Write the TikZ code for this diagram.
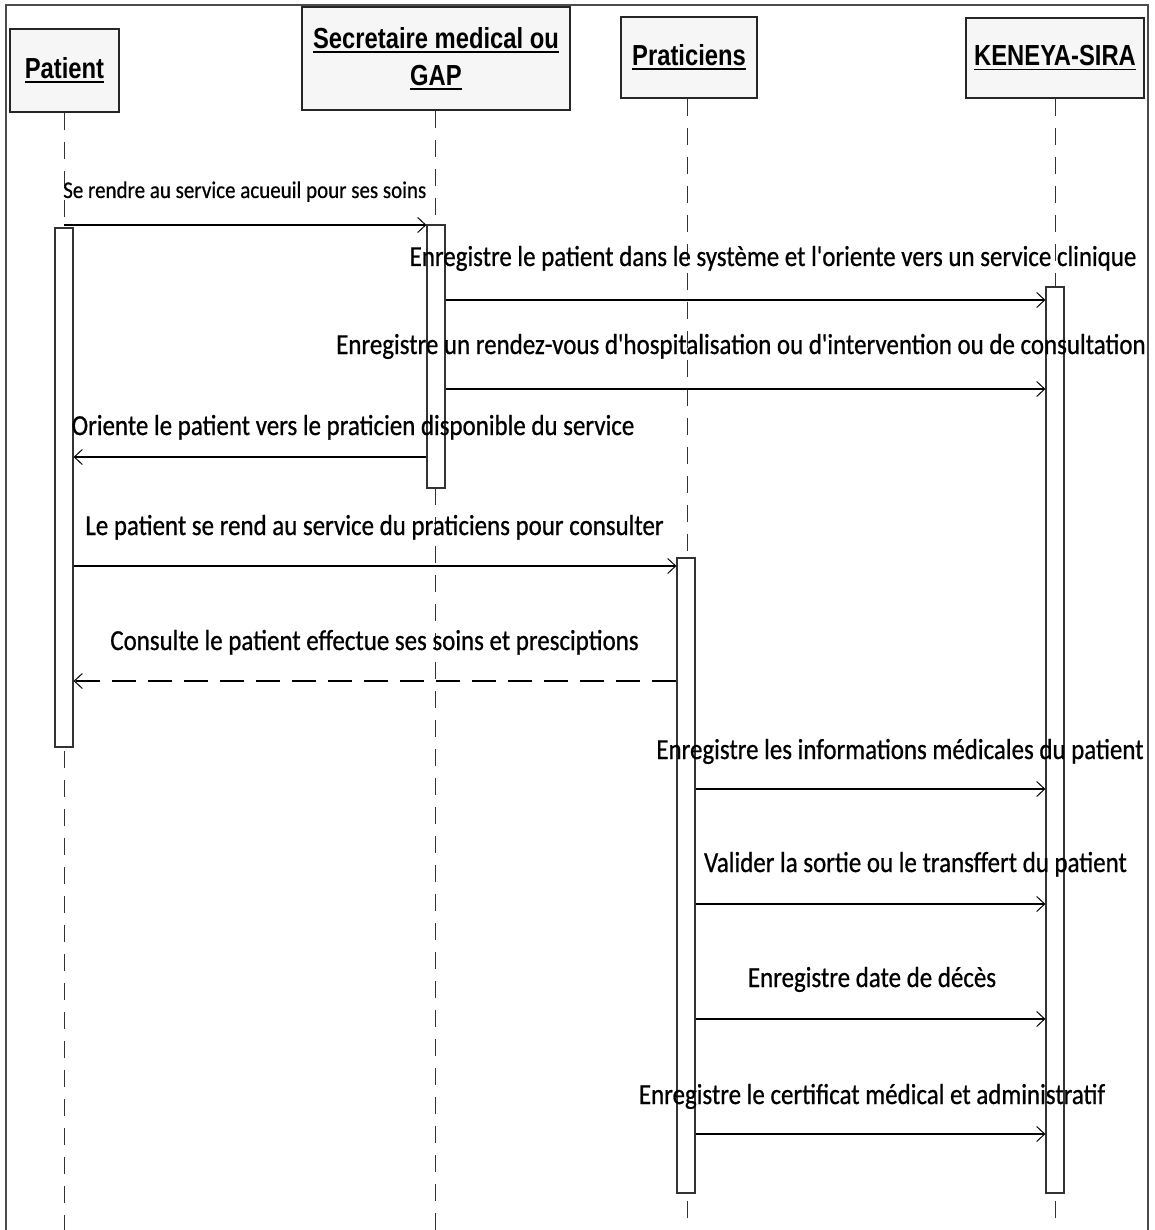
\documentclass[tikz,border=0pt]{standalone}
\usepackage{fontspec}
\setmainfont{Carlito}
\newfontfamily\lblfont[FakeStretch=0.86,FakeBold=0.7]{Carlito}
\newfontfamily\smlfont[FakeStretch=0.875,FakeBold=0.5]{Carlito}
\newfontfamily\hdrfont[FakeStretch=0.82]{Liberation Sans}
\usetikzlibrary{arrows.meta}
% thick underline for participant names
\newcommand{\hul}[1]{\setbox0\hbox{#1}\leavevmode\rlap{\rule[-4.5pt]{\wd0}{1.8pt}}\box0}
\begin{document}
\begin{tikzpicture}[x=1pt,y=-1pt,
  actor/.style={draw=black!85, line width=1.6pt, fill=gray!7,
    font=\hdrfont\bfseries\fontsize{29}{37}\selectfont, align=center, inner sep=0pt},
  lifeline/.style={draw=black!80, line width=1pt, dash pattern=on 17pt off 12pt},
  actbar/.style={draw=black!80, line width=1.2pt, fill=white, minimum width=18pt, inner sep=0pt},
  msg/.style={line width=2.6pt, -{Straight Barb[length=8pt,width=15pt,line width=1pt]}},
  reply/.style={msg, dash pattern=on 24pt off 12pt},
  lbl/.style={font=\lblfont\fontsize{29}{34}\selectfont, inner sep=0pt, anchor=base},
  smalllbl/.style={font=\smlfont\fontsize{24}{28}\selectfont, inner sep=0pt, anchor=base west}
]
\useasboundingbox (0,0) rectangle (1154,1230);
% outer frame
\draw[line width=1.2pt, black!70] (6,1230) -- (6,5) -- (1148,5) -- (1148,1230);

% participants
\node[actor, minimum width=109pt, minimum height=83pt] (pat) at (64.5,70.5) {\hul{Patient}};
\node[actor, minimum width=268pt, minimum height=103pt] (sec) at (436,58.5) {\hul{Secretaire medical ou}\\\hul{GAP}};
\node[actor, minimum width=136pt, minimum height=81pt] (pra) at (689,57.5) {\hul{Praticiens}};
\node[actor, minimum width=178pt, minimum height=80pt] (ken) at (1055,58) {\hul{KENEYA-SIRA}};

% lifeline ends
\coordinate (patend) at (64,1230);
\coordinate (secend) at (435.5,1230);
\coordinate (praend) at (687,1230);
\coordinate (kenend) at (1055,1230);
\draw[lifeline] (pat.south -| patend) -- (patend);
\draw[lifeline] (sec.south -| secend) -- (secend);
\draw[lifeline] (pra.south -| praend) -- (praend);
\draw[lifeline] (ken.south -| kenend) -- (kenend);

% activation bars
\node[actbar, minimum height=519pt] (patbar) at (64,487.5) {};
\node[actbar, minimum height=263pt] (secbar) at (436,356.5) {};
\node[actbar, minimum height=635pt] (prabar) at (686,875.5) {};
\node[actbar, minimum height=906pt] (kenbar) at (1055,740) {};

% message rows
\coordinate (r1) at (0,225);
\coordinate (r2) at (0,300);
\coordinate (r3) at (0,389);
\coordinate (r4) at (0,457);
\coordinate (r5) at (0,566);
\coordinate (r6) at (0,681);
\coordinate (r7) at (0,789);
\coordinate (r8) at (0,904);
\coordinate (r9) at (0,1019);
\coordinate (r10) at (0,1134);

\draw[msg] (patbar.center |- r1) -- (secbar.west |- r1);
\draw[msg] (secbar.east |- r2) -- (kenbar.west |- r2);
\draw[msg] (secbar.east |- r3) -- (kenbar.west |- r3);
\draw[msg] (secbar.west |- r4) -- (patbar.east |- r4);
\draw[msg] (patbar.east |- r5) -- (prabar.west |- r5);
\draw[reply] (prabar.west |- r6) -- (patbar.east |- r6);
\draw[msg] (prabar.east |- r7) -- (kenbar.west |- r7);
\draw[msg] (prabar.east |- r8) -- (kenbar.west |- r8);
\draw[msg] (prabar.east |- r9) -- (kenbar.west |- r9);
\draw[msg] (prabar.east |- r10) -- (kenbar.west |- r10);

% message labels
\node[smalllbl] (t1) at (63,198) {Se rendre au service acueuil pour ses soins};
\node[lbl] (t2) at (773,266) {Enregistre le patient dans le système et l'oriente vers un service clinique};
\node[lbl] (t3) at (741,354) {Enregistre un rendez-vous d'hospitalisation ou d'intervention ou de consultation};
\node[lbl] (t4) at (353,435) {Oriente le patient vers le praticien disponible du service};
\node[lbl] (t5) at (374.5,535) {Le patient se rend au service du praticiens pour consulter};
\node[lbl] (t6) at (374.5,650) {Consulte le patient effectue ses soins et presciptions};
\node[lbl] (t7) at (900,759) {Enregistre les informations médicales du patient};
\node[lbl] (t8) at (915.5,872) {Valider la sortie ou le transffert du patient};
\node[lbl] (t9) at (872,987) {Enregistre date de décès};
\node[lbl] (t10) at (872,1104) {Enregistre le certificat médical et administratif};
\end{tikzpicture}
\end{document}
